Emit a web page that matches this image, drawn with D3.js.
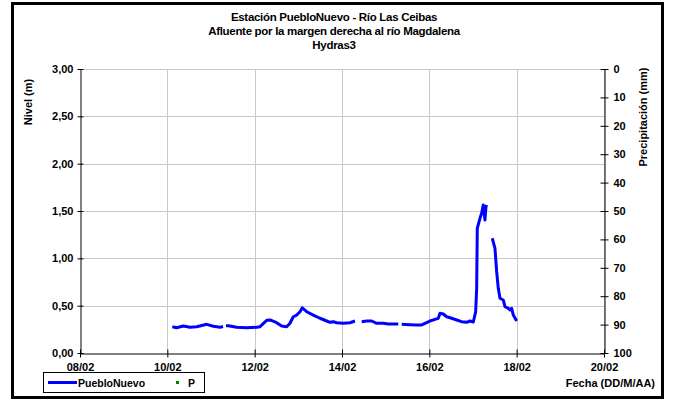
<!DOCTYPE html>
<html><head><meta charset="utf-8">
<script src="https://cdn.jsdelivr.net/npm/d3@7/dist/d3.min.js"></script>
<style>
body{margin:0;background:#fff;}
svg{display:block;font-family:"Liberation Sans",Arial,sans-serif;font-weight:bold;}
</style></head>
<body><svg id="c" width="676" height="403"></svg>
<script>
// ---- data ----
const titleLines = ["Estación PuebloNuevo - Río Las Ceibas", "Afluente por la margen derecha al río Magdalena", "Hydras3"];
// day of February (decimal), null level = gap in record
const days = [10.114,10.214,10.365,10.519,10.672,10.901,11.052,11.206,11.275,11.31,11.343,11.396,11.588,11.817,12.046,12.122,12.275,12.351,12.504,12.619,12.733,12.809,12.884,12.962,13.038,13.090,13.191,13.342,13.496,13.649,13.725,13.800,13.878,14.029,14.183,14.297,14.37,14.451,14.565,14.680,14.794,14.945,15.060,15.174,15.289,15.33,15.367,15.557,15.710,15.825,15.939,16.015,16.130,16.205,16.244,16.319,16.397,16.511,16.626,16.740,16.855,16.931,17.006,17.061,17.084,17.098,17.160,17.198,17.235,17.274,17.297,17.313,17.38,17.441,17.503,17.542,17.579,17.618,17.693,17.732,17.808,17.847,17.885,17.923,18.000];
const nivel = [0.278,0.267,0.285,0.271,0.278,0.303,0.282,0.271,0.28,null,0.288,0.288,0.271,0.267,0.271,0.278,0.345,0.349,0.32,0.285,0.278,0.314,0.383,0.401,0.436,0.478,0.436,0.401,0.367,0.338,0.324,0.331,0.320,0.314,0.320,0.338,null,0.331,0.338,0.338,0.314,0.314,0.306,0.306,0.306,null,0.303,0.299,0.296,0.296,0.320,0.338,0.356,0.367,0.419,0.412,0.383,0.367,0.349,0.331,0.324,0.338,0.327,0.436,0.683,1.317,1.423,1.476,1.563,1.405,1.545,1.563,null,1.212,1.106,0.859,0.683,0.578,0.560,0.489,0.472,0.454,0.472,0.401,0.338];
const precipDays = [];
const precip = [];
const xTickDays = [8,10,12,14,16,18,20];
const yLeftTicks = [0,0.5,1,1.5,2,2.5,3];
const yRightTicks = [0,10,20,30,40,50,60,70,80,90,100];
const seriesNames = ["PuebloNuevo","P"];

// ---- layout ----
const svg = d3.select("#c");
const L = 80, R = 604, T = 69, B = 353;
const toDate = d => new Date(2013, 1, 1 + (d - 1));
const toDateF = d => new Date(new Date(2013,1,1).getTime() + (d - 1) * 86400000);
const x = d3.scaleTime().domain([toDateF(8), toDateF(20)]).range([L, R]);
const y = d3.scaleLinear().domain([0, 3]).range([B, T]);
const y2 = d3.scaleLinear().domain([0, 100]).range([T, B]);
const loc = d3.formatLocale({decimal: ",", thousands: ".", grouping: [3], currency: ["", ""]});
const fmt = loc.format(".2f");

// border
svg.append("rect").attr("x", 12.5).attr("y", 3.5).attr("width", 650).attr("height", 394)
  .attr("fill", "none").attr("stroke", "#000").attr("stroke-width", 3);

// grid
const g = svg.append("g");
g.selectAll(".hg").data(yLeftTicks.filter(v => v > 0)).join("line")
  .attr("x1", L).attr("x2", R).attr("y1", d => Math.round(y(d)) + 0.5).attr("y2", d => Math.round(y(d)) + 0.5)
  .attr("stroke", "#c8c8c8").attr("stroke-width", 1);
g.selectAll(".vg").data(xTickDays.filter(d => d > 8)).join("line")
  .attr("x1", d => Math.round(x(toDateF(d))) + 0.5).attr("x2", d => Math.round(x(toDateF(d))) + 0.5)
  .attr("y1", T).attr("y2", B).attr("stroke", "#c8c8c8").attr("stroke-width", 1);

// axes
const axL = svg.append("g").attr("transform", `translate(${L + 0.5},0)`)
  .call(d3.axisLeft(y).tickValues(yLeftTicks).tickFormat(fmt).tickSizeInner(3).tickSizeOuter(0).tickPadding(4));
const axR = svg.append("g").attr("transform", `translate(${R + 0.5},0)`)
  .call(d3.axisRight(y2).tickValues(yRightTicks).tickFormat(d3.format("d")).tickSizeInner(4).tickSizeOuter(0).tickPadding(5));
const axB = svg.append("g").attr("transform", `translate(0,${B + 0.5})`)
  .call(d3.axisBottom(x).tickValues(xTickDays.map(toDateF)).tickFormat(d3.timeFormat("%d/%m")).tickSizeInner(4).tickSizeOuter(0).tickPadding(6));
[axL, axR, axB].forEach(a => {
  a.selectAll("text").attr("font-size", 11).attr("font-weight", "bold").attr("fill", "#000")
    .attr("font-family", "'Liberation Sans', Arial, sans-serif");
  a.select(".domain").attr("stroke", "#000");
});
// cross ticks (extend to the other side)
axL.selectAll(".tick line").attr("x1", 3);
axR.selectAll(".tick line").attr("x1", -4);
axB.selectAll(".tick line").attr("y1", -4);

// series
const pts = days.map((d, i) => ({t: toDateF(d), v: nivel[i]}));
const line = d3.line().defined(d => d.v !== null).x(d => x(d.t)).y(d => y(d.v));
svg.append("path").datum(pts).attr("d", line).attr("fill", "none")
  .attr("stroke", "#0000ff").attr("stroke-width", 3).attr("stroke-linejoin", "round");
svg.selectAll(".pp").data(precipDays.map((d, i) => ({t: toDateF(d), v: precip[i]}))).join("rect")
  .attr("x", d => x(d.t) - 1.5).attr("y", d => y2(d.v) - 1.5).attr("width", 3).attr("height", 3).attr("fill", "#008000");

// titles
svg.selectAll(".tt").data(titleLines).join("text")
  .attr("x", 334).attr("y", (d, i) => 21 + i * 14).attr("text-anchor", "middle")
  .attr("font-size", 11.5).attr("letter-spacing", -0.3).text(d => d);
svg.append("text").attr("transform", "translate(32,102) rotate(-90)").attr("text-anchor", "middle")
  .attr("font-size", 11).text("Nivel (m)");
svg.append("text").attr("transform", "translate(647,117) rotate(-90)").attr("text-anchor", "middle")
  .attr("font-size", 11).text("Precipitación (mm)");
svg.append("text").attr("x", 655).attr("y", 387).attr("text-anchor", "end")
  .attr("font-size", 11).text("Fecha (DD/M/AA)");

// legend
const lg = svg.append("g");
lg.append("rect").attr("x", 43.5).attr("y", 372.5).attr("width", 161).attr("height", 20)
  .attr("fill", "#fff").attr("stroke", "#000").attr("stroke-width", 1);
lg.append("line").attr("x1", 48).attr("x2", 77).attr("y1", 382.5).attr("y2", 382.5)
  .attr("stroke", "#0000ff").attr("stroke-width", 3);
lg.append("text").attr("x", 78).attr("y", 387).attr("font-size", 10.5).text(seriesNames[0]);
lg.append("rect").attr("x", 176).attr("y", 381).attr("width", 3).attr("height", 3).attr("fill", "#008000");
lg.append("text").attr("x", 188).attr("y", 387).attr("font-size", 10.5).text(seriesNames[1]);
</script></body></html>
